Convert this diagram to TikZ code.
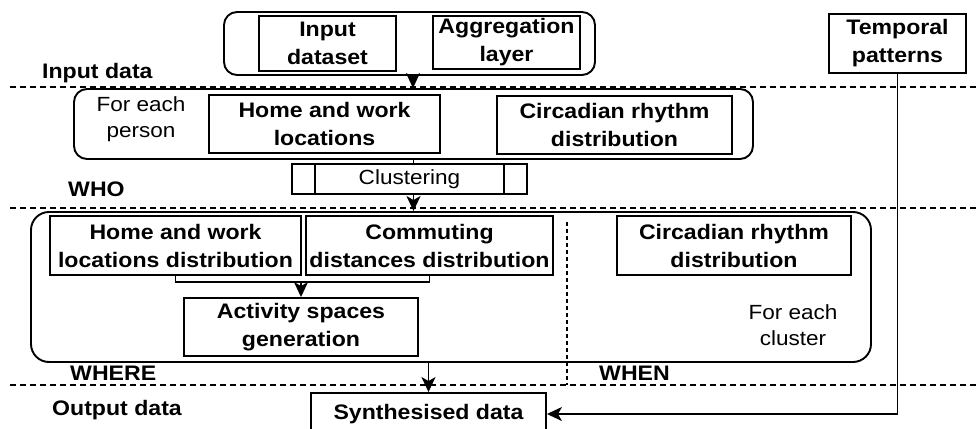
\documentclass[tikz,border=0pt]{standalone}
\usepackage{fontspec}
\setmainfont{Liberation Sans}[FakeStretch=1.1]
\usetikzlibrary{arrows.meta}

\begin{document}
\begin{tikzpicture}[x=1pt,y=-1pt,
 every node/.style={font=\fontsize{20.5}{28}\selectfont},
 box/.style={draw,line width=1.9pt,inner sep=0pt,align=center,font=\fontsize{21}{28}\selectfont\bfseries},
 group/.style={draw,line width=1.9pt,rounded corners=13pt,inner sep=0pt},
 sep/.style={dash pattern=on 6pt off 4pt, line width=1.4pt},
 vsep/.style={dash pattern=on 4pt off 3pt, line width=1.3pt},
 lbl/.style={anchor=west,inner sep=0pt,font=\fontsize{21}{28}\selectfont\bfseries},
 plain/.style={align=center,inner sep=0pt,font=\fontsize{20.5}{26}\selectfont},
 flow/.style={line width=1.8pt,-{Stealth[length=15pt,width=14pt,inset=4pt]}},
 link/.style={line width=1.8pt}]
\useasboundingbox (0,0) rectangle (976,428);

% separators
\draw[sep] (10,87) -- (976,87);
\draw[sep] (10,208) -- (976,208);
\draw[sep] (10,385) -- (976,385);
\draw[vsep] (567,222) -- (567,385);

% top group
\draw[group] (224,12) rectangle (595,75);
\node[box, minimum width=137pt, minimum height=55pt] (indata) at (327.5,43.5) {Input\\dataset};
\node[box, minimum width=147pt, minimum height=53pt] (agg) at (506.5,42.5) {Aggregation\\layer};
\coordinate (g1s) at (413,75);

\node[box, minimum width=137pt, minimum height=59pt] (temporal) at (897.5,43.5) {Temporal\\patterns};

\node[lbl] (linput) at (42,73) {Input data};

% per person group
\node[group, minimum width=679pt, minimum height=70pt] (g2) at (413.5,124) {};
\node[plain] (person) at (141,119) {For each\\person};
\node[box, minimum width=231pt, minimum height=58pt] (hwloc) at (324.5,124) {Home and work\\locations};
\node[box, minimum width=235pt, minimum height=58pt] (circ1) at (614.5,125) {Circadian rhythm\\distribution};

% clustering
\node[box, font=\fontsize{20.5}{28}\selectfont, minimum width=235pt, minimum height=30pt] (clu) at (409.5,179) {Clustering};
\draw[link] ([xshift=24pt]clu.north west) -- ([xshift=24pt]clu.south west);
\draw[link] ([xshift=-24pt]clu.north east) -- ([xshift=-24pt]clu.south east);

\node[lbl] (lwho) at (68,189) {WHO};

% per cluster group
\node[group, rounded corners=18pt, minimum width=840pt, minimum height=150pt] (g3) at (451,287) {};
\node[box, minimum width=251pt, minimum height=59pt] (hwdist) at (175.5,245.5) {Home and work\\locations distribution};
\node[box, minimum width=247pt, minimum height=59pt] (comm) at (429.5,245.5) {Commuting\\distances distribution};
\node[box, minimum width=234pt, minimum height=59pt] (circ2) at (734,245.5) {Circadian rhythm\\distribution};
\node[box, minimum width=234pt, minimum height=58pt] (act) at (301,327) {Activity spaces\\generation};
\node[plain] (cluster) at (793,325) {For each\\cluster};

\node[lbl] (lwhere) at (70,373) {WHERE};
\node[lbl] (lwhen) at (599,373) {WHEN};
\node[lbl] (loutput) at (52,410) {Output data};

\node[box, minimum width=235pt, minimum height=42pt] (synth) at (428.5,414) {Synthesised data};

% connectors
\draw[flow] (g1s) -- (g1s |- g2.north);
\draw[link] (g2.south) -- (g2.south |- clu.north);
\draw[flow] (g2.south |- clu.south) -- (g2.south |- g3.north);

\coordinate (br) at (301,282);
\draw[link] (hwdist.south) |- (br) -| (comm.south);
\draw[flow] (br) -- (act.north);

\draw[flow] (synth.north |- g3.south) -- (synth.north);
\draw[flow] (temporal.south) |- (synth.east);
\end{tikzpicture}
\end{document}
